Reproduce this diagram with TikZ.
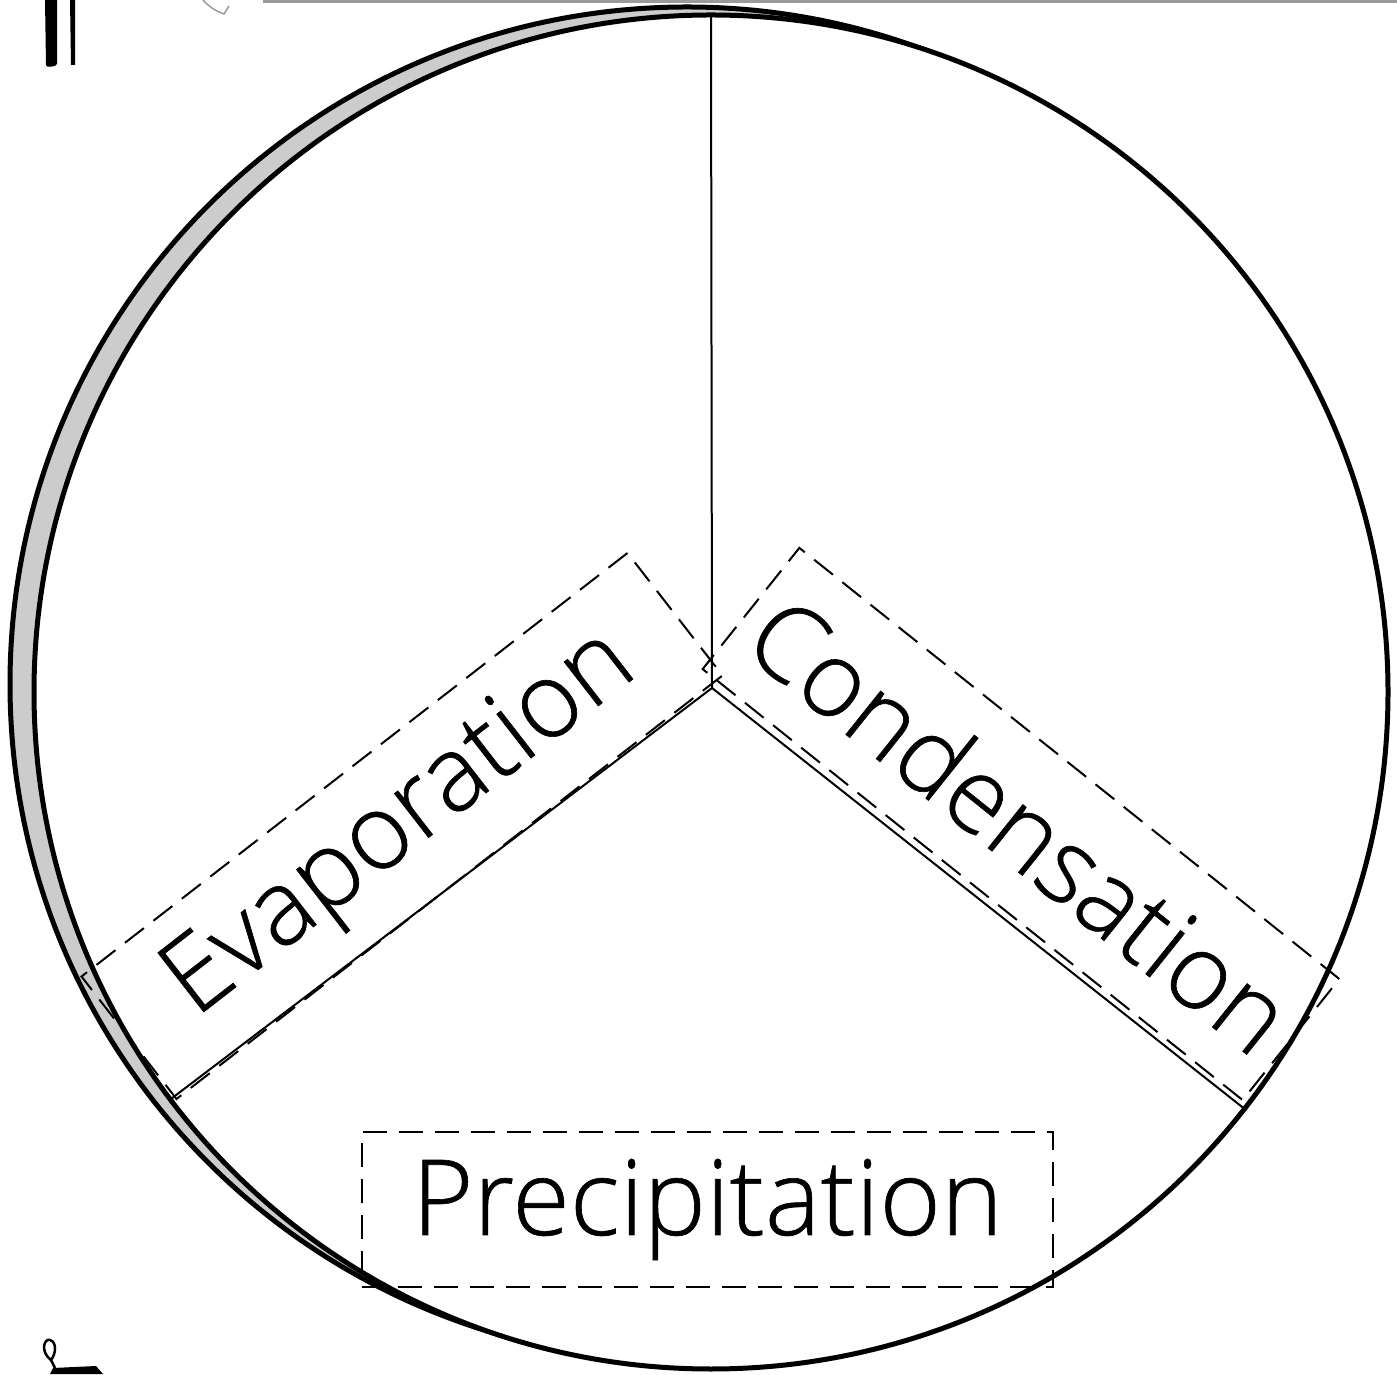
\documentclass[tikz,border=0pt]{standalone}
\usepackage{fontspec}
\setmainfont{Open Sans}[UprightFont={* Light}, FakeStretch=1.0, FakeBold=0.6]
\definecolor{shade}{HTML}{CCCCCC}
\definecolor{rule}{HTML}{9A9A9A}
\begin{document}
\begin{tikzpicture}[x=1pt,y=1pt,
  ring/.style={circle, draw=black, line width=5pt, inner sep=0pt, outer sep=0pt, minimum size=1354pt},
  spoke/.style={draw=black, line width=2pt},
  labelbox/.style={draw=black, line width=2pt, dash pattern=on 24pt off 12pt,
    minimum width=691pt, minimum height=155pt, inner sep=0pt, anchor=center,
    font=\fontsize{105}{110}\selectfont},
  clip art/.style={fill=black, draw=none}
]
\useasboundingbox (0,0) rectangle (1397,1374);
% back (shadow) circle and main circle
\node[ring, fill=shade] (back) at (687,690) {};
\node[ring, fill=white] (main) at (711,682) {};
\coordinate (ctr) at (712,686);
% spokes
\draw[spoke] (ctr) -- (main.90);
\draw[spoke] (ctr) -- (main.217.7);
\draw[spoke] (ctr) -- (main.322.5);
% labels
\node[labelbox, rotate=37.8] (evap) at (402,548) {Evaporation};
\node[labelbox, rotate=-38.6] (cond) at (1021,550) {Condensation};
\node[labelbox] (prec) at (707.5,164.5) {Precipitation};
% stray clip-art marks
\fill[black] (45,1374) -- (57,1374) -- (57,1310) .. controls (57,1307) and (45,1306) .. (46,1309) -- cycle;
\fill[black] (70,1374) -- (75,1374) -- (75,1309) -- (71,1309) -- cycle;
\draw[rule, line width=1.5pt] (203,1374) .. controls (210,1366) and (218,1362) .. (224,1360) -- (229,1368);
\draw[rule, line width=2.5pt] (263,1372.5) -- (1397,1372.5);
\draw[black, line width=2.5pt] (55,6) -- (51,14) .. controls (40,22) and (44,36) .. (50,34) .. controls (57,32) and (56,20) .. (51,14);
\fill[black] (50,0) -- (53,6) -- (96,8) -- (103,0) -- cycle;
\end{tikzpicture}
\end{document}
